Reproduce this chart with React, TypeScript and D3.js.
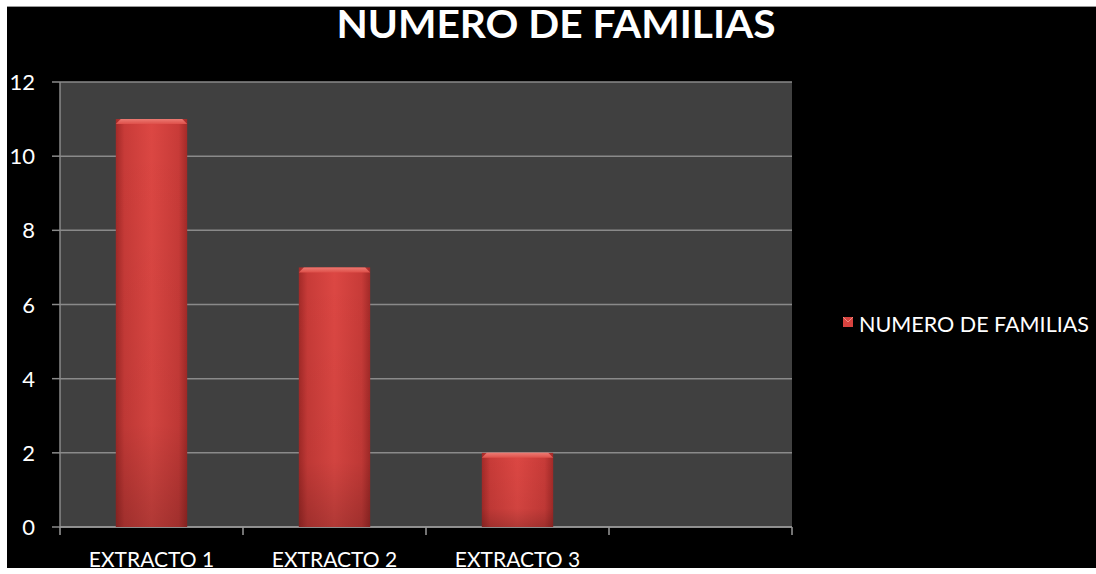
import React from "react";
import * as d3 from "d3";

const categories = ["EXTRACTO 1", "EXTRACTO 2", "EXTRACTO 3", ""];
const values = [11, 7, 2, null];
const seriesName = "NUMERO DE FAMILIAS";
const yTicks = [0, 2, 4, 6, 8, 10, 12];

const W = 1096, H = 574;
const PL = 60, PR = 792, PT = 82, PB = 527;
const FONT = "Lato, 'Open Sans', sans-serif";

export default function App() {
  const x = d3.scaleBand<string>().domain(categories.map((c, i) => String(i))).range([PL, PR]).paddingInner(0.61).paddingOuter(0.305);
  const band = d3.scaleBand<string>().domain(categories.map((c, i) => String(i))).range([PL, PR]);
  const y = d3.scaleLinear().domain([0, 12]).range([PB, PT]);
  const bw = x.bandwidth();
  const bev = 5;
  return (
    <svg width={W} height={H} style={{ position: "fixed", left: 0, top: 0, display: "block" }}>
      <defs>
        <linearGradient id="barH" x1="0" x2="1" y1="0" y2="0">
          <stop offset="0" stopColor="#a32a28" />
          <stop offset="0.12" stopColor="#c83b38" />
          <stop offset="0.5" stopColor="#dc4743" />
          <stop offset="0.88" stopColor="#c83b38" />
          <stop offset="1" stopColor="#a32a28" />
        </linearGradient>
        <linearGradient id="barV" x1="0" x2="0" y1="0" y2="1">
          <stop offset="0" stopColor="#000" stopOpacity="0" />
          <stop offset="0.75" stopColor="#000" stopOpacity="0.05" />
          <stop offset="1" stopColor="#000" stopOpacity="0.2" />
        </linearGradient>
        <linearGradient id="barTop" x1="0" x2="0" y1="0" y2="1">
          <stop offset="0" stopColor="#ec7a72" />
          <stop offset="1" stopColor="#de4f49" />
        </linearGradient>
      </defs>
      <rect x={0} y={0} width={W} height={H} fill="#fff" />
      <rect x={7} y={6} width={W - 7} height={562} fill="#000" />
      <line x1={7} x2={W} y1={6.5} y2={6.5} stroke="#999" strokeWidth={1} />
      <text x={556} y={38} textAnchor="middle" fill="#fff" fontFamily={FONT} fontWeight={700} fontSize={38} textLength={439} lengthAdjust="spacingAndGlyphs">{seriesName}</text>
      <rect x={PL} y={PT} width={PR - PL} height={PB - PT} fill="#404040" />
      {yTicks.map(t => (
        <g key={t}>
          <line x1={PL} x2={PR} y1={y(t)} y2={y(t)} stroke="#8a8a8a" strokeWidth={1.5} />
          <line x1={52} x2={PL} y1={y(t)} y2={y(t)} stroke="#8a8a8a" strokeWidth={1.5} />
          <text x={35} y={y(t) + 8} textAnchor="end" fill="#fff" fontFamily={FONT} fontSize={22}>{t}</text>
        </g>
      ))}
      <line x1={PL} x2={PL} y1={PT} y2={PB} stroke="#8a8a8a" strokeWidth={1.5} />
      <line x1={PL} x2={PR} y1={PB} y2={PB} stroke="#9a9a9a" strokeWidth={1.5} />
      {categories.map((c, i) => (
        <line key={"t" + i} x1={band(String(i))!} x2={band(String(i))!} y1={PB} y2={PB + 8} stroke="#9a9a9a" strokeWidth={1.5} />
      ))}
      <line x1={PR} x2={PR} y1={PB} y2={PB + 8} stroke="#9a9a9a" strokeWidth={1.5} />
      {values.map((v, i) => {
        if (v == null) return null;
        const x0 = x(String(i))!;
        const yt = y(v);
        return (
          <g key={i}>
            <rect x={x0} y={yt} width={bw} height={PB - yt} fill="url(#barH)" />
            <rect x={x0} y={yt} width={bw} height={PB - yt} fill="url(#barV)" />
            <path d={`M${x0},${yt + bev}L${x0 + bev},${yt}L${x0 + bw - bev},${yt}L${x0 + bw},${yt + bev}Z`} fill="url(#barTop)" />
          </g>
        );
      })}
      {categories.map((c, i) => (
        <text key={"c" + i} x={band(String(i))! + band.bandwidth() / 2} y={567} textAnchor="middle" fill="#fff" fontFamily={FONT} fontSize={21}>{c}</text>
      ))}
      <rect x={843} y={317} width={10} height={10} fill="#d8433f" />
      <path d="M843,317L848,322L853,317" fill="none" stroke="#f08a80" strokeWidth={1} />
      <text x={859} y={332} fill="#fff" fontFamily={FONT} fontSize={21.5} textLength={230} lengthAdjust="spacingAndGlyphs">{seriesName}</text>
    </svg>
  );
}
